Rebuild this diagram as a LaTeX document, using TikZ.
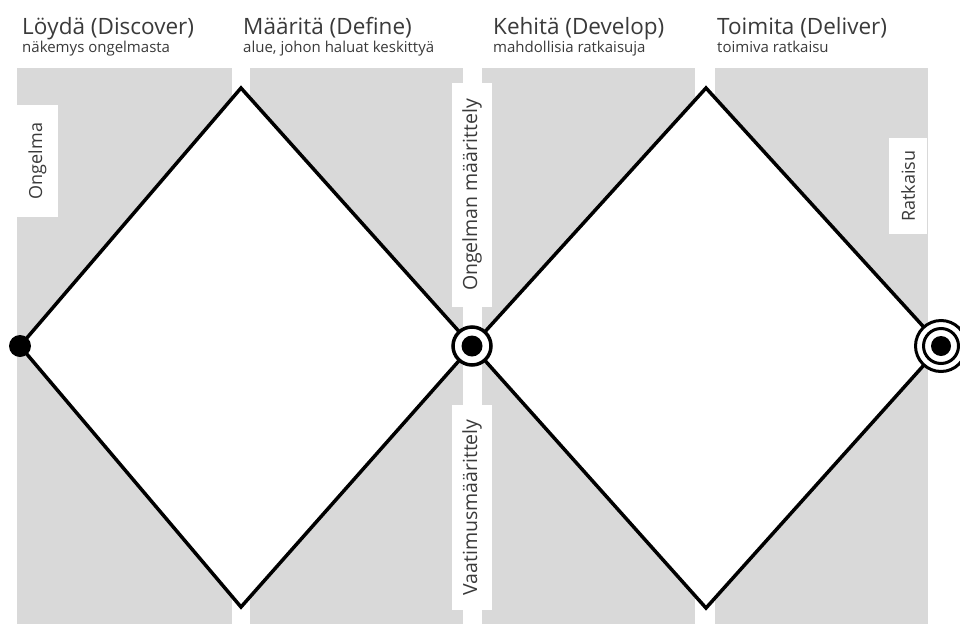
\documentclass[tikz,border=0pt]{standalone}
\usepackage{fontspec}
\setmainfont{Open Sans}
\begin{document}
\begin{tikzpicture}[x=1pt,y=-1pt,
  band/.style={fill=bandgray,draw=none},
  diamondline/.style={draw=black,line width=3.5pt,fill=white,line join=miter},
  title/.style={anchor=base west,inner sep=0pt,text=txt,font=\fontsize{22.5}{26}\selectfont},
  subtitle/.style={anchor=base west,inner sep=0pt,text=txt,font=\fontsize{15}{17}\selectfont},
  vlabel/.style={rotate=90,fill=white,inner sep=0pt,text=txt,font=\fontsize{18}{20}\selectfont},
  vlabelwide/.style={vlabel,font=\fontsize{19.5}{22}\selectfont},
]
\definecolor{bandgray}{HTML}{D9D9D9}
\definecolor{txt}{HTML}{3A3A3A}
\useasboundingbox (0,0) rectangle (960,624);
\fill[white] (0,0) rectangle (960,624);

% phase columns
\path[band] (17,68) rectangle (232,624);
\path[band] (250,68) rectangle (463,624);
\path[band] (482,68) rectangle (695,624);
\path[band] (715,68) rectangle (928,624);

% phase headings
\node[title] (h1) at (22,34) {Löydä (Discover)};
\node[subtitle] (s1) at (22,52) {näkemys ongelmasta};
\node[title] (h2) at (243,34) {Määritä (Define)};
\node[subtitle] (s2) at (243,52) {alue, johon haluat keskittyä};
\node[title] (h3) at (493,34) {Kehitä (Develop)};
\node[subtitle] (s3) at (493,52) {mahdollisia ratkaisuja};
\node[title] (h4) at (717,34) {Toimita (Deliver)};
\node[subtitle] (s4) at (717,52) {toimiva ratkaisu};

% milestone labels
\node[vlabel,minimum width=112pt,minimum height=41pt] (lab1) at (37.5,161) {Ongelma};
\node[vlabelwide,minimum width=224pt,minimum height=40pt] (lab2) at (472,195) {Ongelman määrittely};
\node[vlabelwide,minimum width=205pt,minimum height=40pt] (lab3) at (472,507.5) {Vaatimusmäärittely};
\node[vlabel,minimum width=96pt,minimum height=38pt] (lab4) at (908,186) {Ratkaisu};

% diamond corners
\coordinate (start) at (20,346);
\coordinate (top1) at (241,88);
\coordinate (bot1) at (241,607);
\coordinate (mid) at (472,346);
\coordinate (top2) at (706,88);
\coordinate (bot2) at (706,608);
\coordinate (finish) at (941,346);

% the two diamonds
\path[diamondline] (start) -- (top1) -- (mid) -- (bot1) -- cycle;
\path[diamondline] (mid) -- (top2) -- (finish) -- (bot2) -- cycle;

% milestone markers
\fill[black] (start) circle (11);
\draw[line width=3.5pt,fill=white] (mid) circle (19);
\fill[black] (mid) circle (10.5);
\draw[line width=3pt,fill=white] (finish) circle (25.5);
\draw[line width=3pt] (finish) circle (17.5);
\fill[black] (finish) circle (10);
\end{tikzpicture}
\end{document}
